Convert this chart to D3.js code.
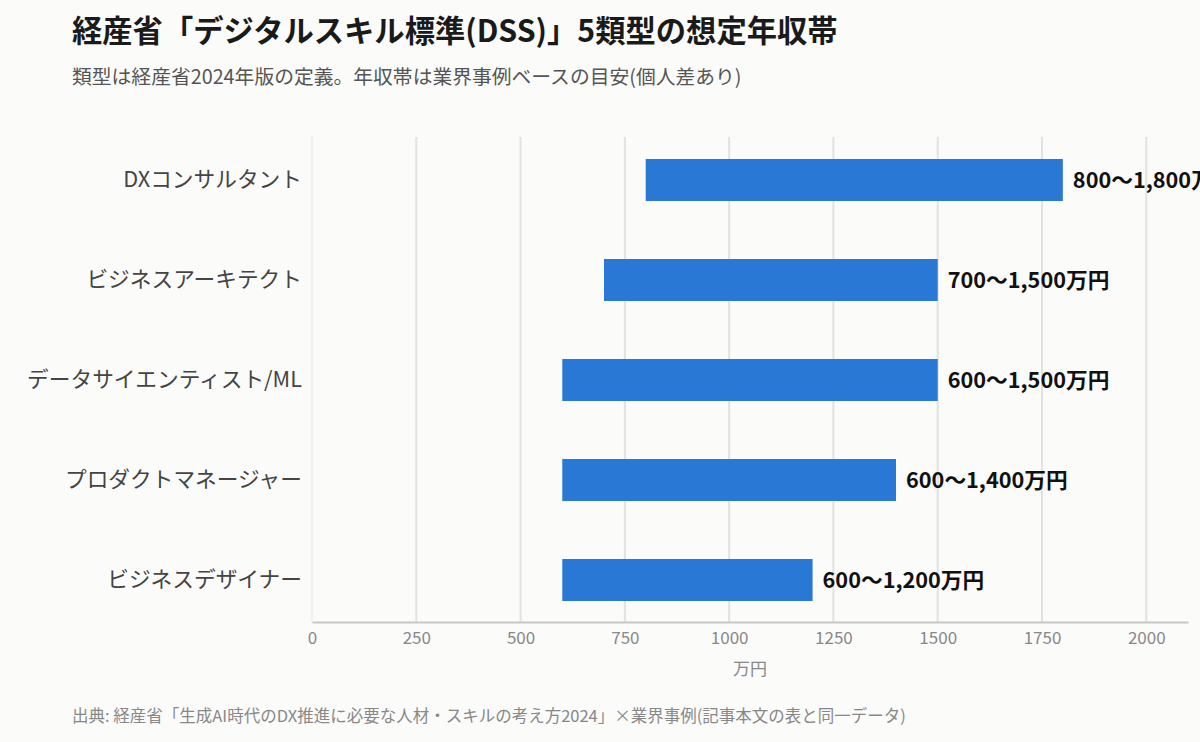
<!DOCTYPE html>
<html>
<head>
<meta charset="utf-8">
<script src="https://cdn.jsdelivr.net/npm/d3@7"></script>
<style>
  html, body { margin: 0; padding: 0; background: #fbfbf9; }
  svg { display: block; font-family: "Noto Sans CJK JP", "Noto Sans", sans-serif; }
</style>
</head>
<body>
<div id="chart"></div>
<script>
// Categories, top to bottom
const categories = [
  'DXコンサルタント',
  'ビジネスアーキテクト',
  'データサイエンティスト/ML',
  'プロダクトマネージャー',
  'ビジネスデザイナー'
];
// Salary range (万円)
const lowValues = [800, 700, 600, 600, 600];
const highValues = [1800, 1500, 1500, 1400, 1200];
const rangeLabels = [
  '800〜1,800万円',
  '700〜1,500万円',
  '600〜1,500万円',
  '600〜1,400万円',
  '600〜1,200万円'
];
const xTicks = [0, 250, 500, 750, 1000, 1250, 1500, 1750, 2000];

const data = categories.map((c, i) => ({
  label: c, low: lowValues[i], high: highValues[i], text: rangeLabels[i]
}));

const width = 1200;
const height = 742;
const plot = { left: 312, right: 1188, top: 137, bottom: 622 };

const svg = d3.select('#chart')
  .append('svg')
  .attr('width', width)
  .attr('height', height);

svg.append('rect')
  .attr('width', width)
  .attr('height', height)
  .attr('fill', '#fbfbf9');

// Title + subtitle
svg.append('text')
  .attr('x', 72)
  .attr('y', 42)
  .style('font-size', '30.3px')
  .style('font-weight', 700)
  .style('fill', '#1a1a1a')
  .text('経産省「デジタルスキル標準(DSS)」5類型の想定年収帯');

svg.append('text')
  .attr('x', 72)
  .attr('y', 84)
  .style('font-size', '19.8px')
  .style('fill', '#555')
  .text('類型は経産省2024年版の定義。年収帯は業界事例ベースの目安(個人差あり)');

// Scales
const x = d3.scaleLinear()
  .domain([0, 2100])
  .range([plot.left, plot.right]);

const y = d3.scaleBand()
  .domain(categories)
  .range([130, 630])
  .paddingInner(0.58)
  .paddingOuter(0.29);

// Gridlines
svg.append('g')
  .selectAll('line')
  .data(xTicks.slice(1))
  .enter()
  .append('line')
  .attr('x1', d => x(d))
  .attr('x2', d => x(d))
  .attr('y1', plot.top)
  .attr('y2', plot.bottom)
  .attr('stroke', '#e2e2de')
  .attr('stroke-width', 2);

// Left axis line
svg.append('line')
  .attr('x1', plot.left)
  .attr('x2', plot.left)
  .attr('y1', plot.top)
  .attr('y2', plot.bottom)
  .attr('stroke', '#ececea')
  .attr('stroke-width', 1.5);

// Bars
svg.selectAll('.bar')
  .data(data)
  .enter()
  .append('rect')
  .attr('class', 'bar')
  .attr('x', d => x(d.low))
  .attr('width', d => x(d.high) - x(d.low))
  .attr('y', d => y(d.label))
  .attr('height', y.bandwidth())
  .attr('fill', '#2a78d6');

// Value labels
svg.selectAll('.label')
  .data(data)
  .enter()
  .append('text')
  .attr('class', 'label')
  .attr('x', d => x(d.high) + 10)
  .attr('y', d => y(d.label) + y.bandwidth() / 2)
  .attr('dy', '0.35em')
  .style('font-size', '21.7px')
  .style('font-weight', 700)
  .style('fill', '#111')
  .text(d => d.text);

// Y axis
const yAxis = svg.append('g')
  .attr('transform', `translate(${plot.left}, 0)`)
  .call(d3.axisLeft(y).tickSize(0).tickPadding(10));
yAxis.select('.domain').remove();
yAxis.selectAll('text')
  .style('font-family', '"Noto Sans CJK JP", sans-serif')
  .style('font-size', '21.7px')
  .style('fill', '#444');

// X axis
const xAxis = svg.append('g')
  .attr('transform', `translate(0, ${plot.bottom})`)
  .call(d3.axisBottom(x).tickValues(xTicks).tickSize(0).tickPadding(10).tickFormat(d3.format('d')));
xAxis.select('.domain')
  .attr('stroke', '#c8c8c2')
  .attr('stroke-width', 2);
xAxis.selectAll('text')
  .style('font-family', '"Noto Sans CJK JP", sans-serif')
  .style('font-size', '17px')
  .style('fill', '#888');

svg.append('text')
  .attr('x', (plot.left + plot.right) / 2)
  .attr('y', 675)
  .attr('text-anchor', 'middle')
  .style('font-size', '17px')
  .style('fill', '#888')
  .text('万円');

// Source
svg.append('text')
  .attr('x', 72)
  .attr('y', 722)
  .style('font-size', '16.5px')
  .style('fill', '#888')
  .text('出典: 経産省「生成AI時代のDX推進に必要な人材・スキルの考え方2024」×業界事例(記事本文の表と同一データ)');
</script>
</body>
</html>
